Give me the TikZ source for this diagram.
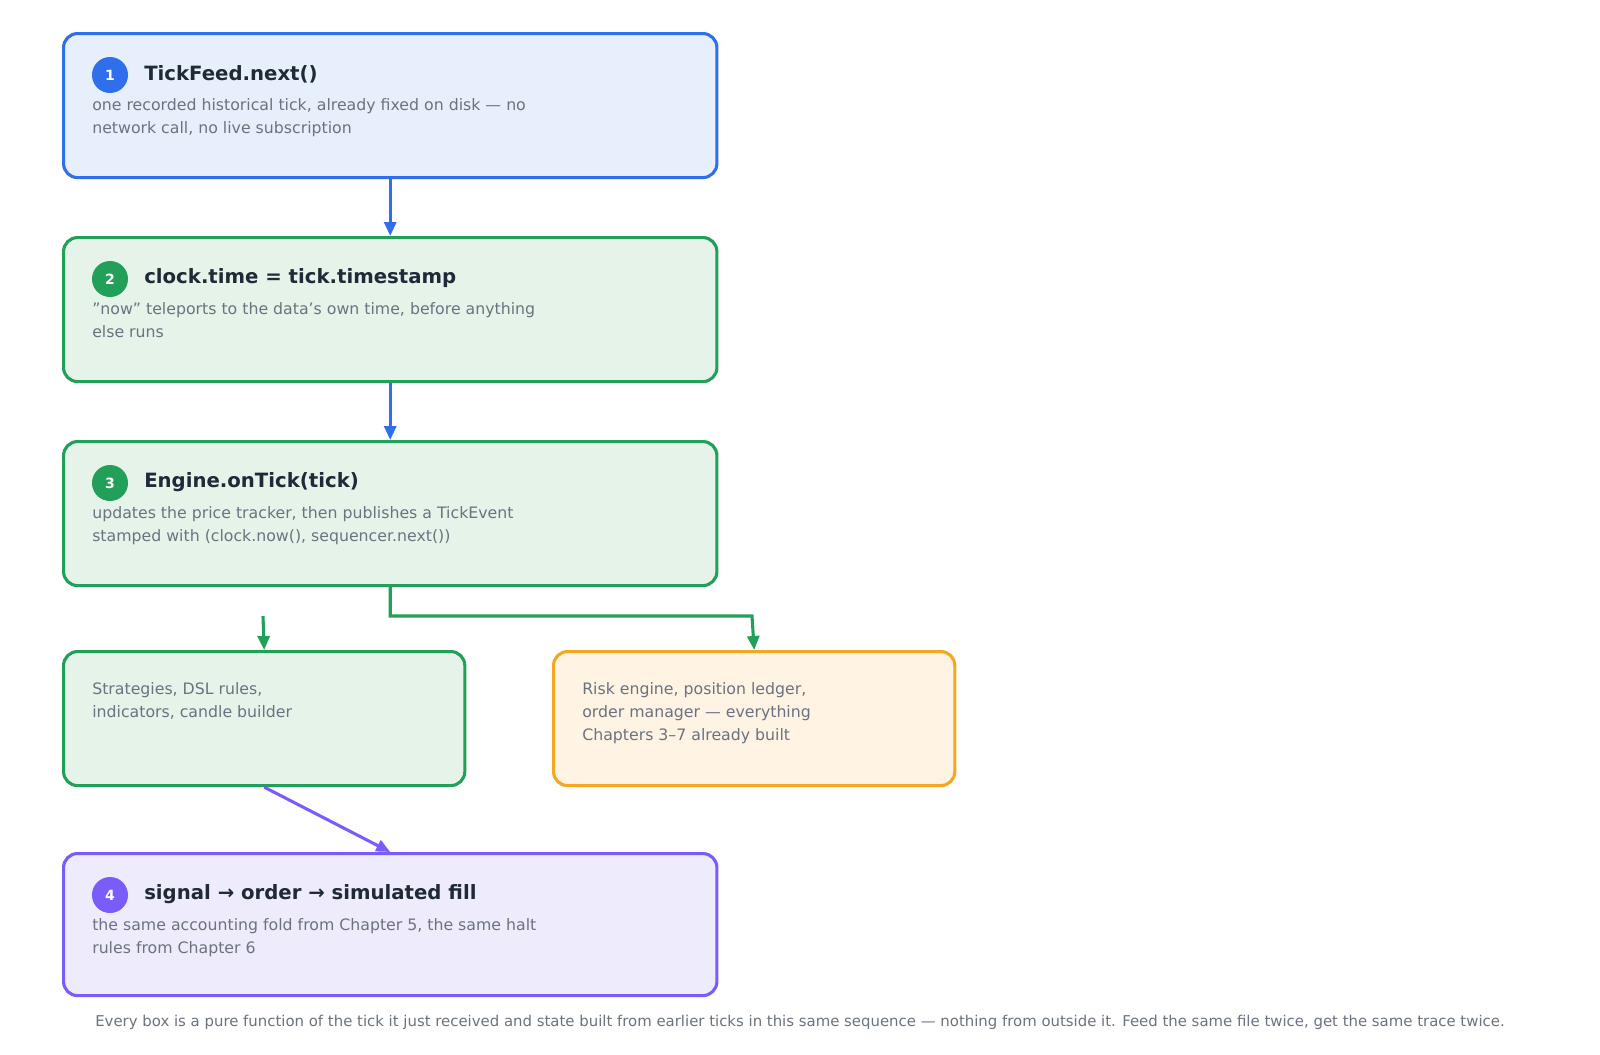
\documentclass[tikz,border=0pt]{standalone}
\usepackage{fontspec}
\setmainfont{DejaVu Sans}
\usetikzlibrary{arrows.meta,positioning,calc}
\definecolor{stepBlue}{HTML}{2F6FEB}
\definecolor{fillBlue}{HTML}{E8EFFC}
\definecolor{stepGreen}{HTML}{22A05A}
\definecolor{fillGreen}{HTML}{E6F3E9}
\definecolor{stepOrange}{HTML}{F5A623}
\definecolor{fillOrange}{HTML}{FFF3E4}
\definecolor{stepPurple}{HTML}{7B5CFA}
\definecolor{fillPurple}{HTML}{EEEBFD}
\definecolor{titleInk}{HTML}{1F2937}
\definecolor{noteInk}{HTML}{6B7280}
\tikzset{
  box/.style={draw,line width=2.2pt,rounded corners=0.35cm,anchor=north west,inner sep=0pt},
  badge/.style={circle,minimum size=0.9cm,inner sep=0pt,text=white,font=\bfseries\fontsize{10}{12}\selectfont},
  title/.style={anchor=west,text=titleInk,font=\bfseries\fontsize{14}{16}\selectfont,inner sep=0pt},
  note/.style={anchor=north west,text=noteInk,font=\fontsize{11.2}{16.6}\selectfont,align=left,inner sep=0pt},
  flow/.style={line width=2.2pt,-{Triangle[length=0.35cm,width=0.3cm]}}
}
\begin{document}
\begin{tikzpicture}[x=0.025cm,y=-0.025cm]
    \useasboundingbox (0,0) rectangle (1600,1054);

    % step boxes
    \node[box,draw=stepBlue,fill=fillBlue,minimum width=16.33cm,minimum height=3.6cm] (feed) at (62,32) {};
    \node[box,draw=stepGreen,fill=fillGreen,minimum width=16.33cm,minimum height=3.6cm] (clock) at (62,236) {};
    \node[box,draw=stepGreen,fill=fillGreen,minimum width=16.33cm,minimum height=3.6cm] (engine) at (62,440) {};
    \node[box,draw=stepGreen,fill=fillGreen,minimum width=10.03cm,minimum height=3.35cm] (strat) at (62,650) {};
    \node[box,draw=stepOrange,fill=fillOrange,minimum width=10.03cm,minimum height=3.35cm] (risk) at (552,650) {};
    \node[box,draw=stepPurple,fill=fillPurple,minimum width=16.33cm,minimum height=3.55cm] (fill) at (62,852) {};

    % badges, titles, notes
    \node[badge,fill=stepBlue] (b1) at (110,75) {1};
    \node[title] (t1) at (144,74) {TickFeed.next()};
    \node[note] (n1) at (92,98) {one recorded historical tick, already fixed on disk — no\\network call, no live subscription};

    \node[badge,fill=stepGreen] (b2) at (110,279) {2};
    \node[title] (t2) at (144,278) {clock.time = tick.timestamp};
    \node[note] (n2) at (92,302) {"now" teleports to the data's own time, before anything\\else runs};

    \node[badge,fill=stepGreen] (b3) at (110,483) {3};
    \node[title] (t3) at (144,482) {Engine.onTick(tick)};
    \node[note] (n3) at (92,506) {updates the price tracker, then publishes a TickEvent\\stamped with (clock.now(), sequencer.next())};

    \node[note] (n4) at (92,682) {Strategies, DSL rules,\\indicators, candle builder};
    \node[note] (n5) at (582,682) {Risk engine, position ledger,\\order manager — everything\\Chapters 3–7 already built};

    \node[badge,fill=stepPurple] (b6) at (110,895) {4};
    \node[title] (t6) at (144,894) {signal → order → simulated fill};
    \node[note] (n6) at (92,918) {the same accounting fold from Chapter 5, the same halt\\rules from Chapter 6};

    \node[anchor=center,text=noteInk,font=\fontsize{10.6}{12}\selectfont,inner sep=0pt] (cap) at (800,1022) {Every box is a pure function of the tick it just received and state built from earlier ticks in this same sequence — nothing from outside it. Feed the same file twice, get the same trace twice.};

    % connectors
    \coordinate (split) at (263,616);
    \draw[flow,stepBlue] (feed.south) -- (clock.north);
    \draw[flow,stepBlue] (clock.south) -- (engine.north);
    \draw[flow,stepGreen] (engine.south) |- (752,616) -- (risk.north);
    \draw[flow,stepGreen] (split) -- (strat.north);
    \draw[flow,stepPurple] (strat.south) -- (fill.north);
\end{tikzpicture}
\end{document}
